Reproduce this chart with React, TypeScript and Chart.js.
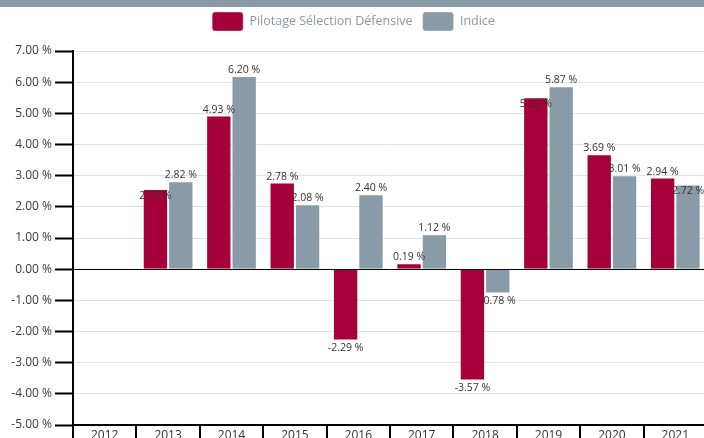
import React, { useEffect, useRef } from "react";
import { Chart, registerables } from "chart.js";

Chart.register(...registerables);

const categories = ["2012", "2013", "2014", "2015", "2016", "2017", "2018", "2019", "2020", "2021"];
const pilotageValues: (number | null)[] = [null, 2.57, 4.93, 2.78, -2.29, 0.19, -3.57, 5.52, 3.69, 2.94];
const indiceValues: (number | null)[] = [null, 2.82, 6.2, 2.08, 2.4, 1.12, -0.78, 5.87, 3.01, 2.72];
const seriesNames = ["Pilotage Sélection Défensive", "Indice"];
const yMin = -5;
const yMax = 7;
const yStep = 1;

const RED = "#a5003a";
const GRAY = "#8a9ba8";
const FONT = "'Open Sans', 'Noto Sans', sans-serif";

const legendSpacingPlugin = {
  id: "legendSpacing",
  beforeInit(chart: any) {
    const legend = chart.legend;
    if (!legend) return;
    const origFit = legend.fit;
    legend.fit = function () {
      origFit.call(this);
      this.height += 10;
    };
  },
};

const valueLabelPlugin = {
  id: "valueLabels",
  afterDatasetsDraw(chart: any) {
    const ctx = chart.ctx;
    const datasets = chart.data.datasets;
    const metas = datasets.map((_: any, i: number) => chart.getDatasetMeta(i));
    ctx.save();
    ctx.font = `10.5px ${FONT}`;
    ctx.fillStyle = "#333333";
    ctx.textAlign = "center";
    ctx.textBaseline = "alphabetic";
    const n = chart.data.labels.length;
    for (let j = 0; j < n; j++) {
      const items = metas.map((m: any, i: number) => ({ v: datasets[i].data[j], el: m.data[j] }));
      const inside = items.map(() => false);
      if (items.length === 2 && items.every((it: any) => it.v != null && it.v > 0)) {
        const [a, b] = items;
        if (Math.abs(a.el.y - b.el.y) < 12) {
          if (a.el.y > b.el.y) inside[0] = true;
          else inside[1] = true;
        }
      }
      items.forEach((it: any, i: number) => {
        if (it.v == null || !it.el) return;
        const { x, y } = it.el;
        let by: number;
        if (it.v >= 0) by = inside[i] ? y + 10 : y - 3;
        else by = y + 10.5;
        ctx.fillText(it.v.toFixed(2) + " %", x, by);
      });
    }
    ctx.restore();
  },
};

export default function App() {
  const canvasRef = useRef<HTMLCanvasElement | null>(null);

  useEffect(() => {
    if (!canvasRef.current) return;
    const chart = new Chart(canvasRef.current, {
      type: "bar",
      data: {
        labels: categories,
        datasets: [
          {
            label: seriesNames[0],
            data: pilotageValues,
            backgroundColor: RED,
            borderColor: "rgba(255,255,255,0.35)",
            borderWidth: 1,
            categoryPercentage: 0.8,
            barPercentage: 1.0,
          },
          {
            label: seriesNames[1],
            data: indiceValues,
            backgroundColor: GRAY,
            borderColor: "rgba(255,255,255,0.35)",
            borderWidth: 1,
            categoryPercentage: 0.8,
            barPercentage: 1.0,
          },
        ],
      },
      options: {
        responsive: false,
        animation: false,
        devicePixelRatio: 1,
        layout: { padding: { top: 2, left: 0, right: 0, bottom: 0 } },
        plugins: {
          legend: {
            position: "top",
            labels: {
              boxWidth: 31,
              boxHeight: 19,
              useBorderRadius: true,
              borderRadius: 3,
              color: "#8a98a5",
              font: { family: FONT, size: 12.5 },
              padding: 10,
            },
          },
          tooltip: { enabled: false },
        },
        scales: {
          x: {
            offset: true,
            grid: {
              offset: true,
              drawOnChartArea: false,
              drawTicks: true,
              tickLength: 16,
              tickWidth: 2,
              tickColor: "#000",
              color: "#000",
              lineWidth: 2,
            },
            border: { display: true, color: "#000", width: 2 },
            ticks: {
              padding: -13,
              color: "#333333",
              font: { family: FONT, size: 12 },
              maxRotation: 0,
              autoSkip: false,
            },
            afterFit: (s: any) => {
              s.height = 27;
            },
          },
          y: {
            min: yMin,
            max: yMax,
            ticks: {
              stepSize: yStep,
              callback: (v: any) => Number(v).toFixed(2) + " %",
              padding: 3,
              color: "#3a3a3a",
              font: { family: FONT, size: 12 },
            },
            grid: {
              color: (c: any) => (c.tick && c.tick.value === 0 ? "#000" : "#e2e2e2"),
              lineWidth: 1,
              tickColor: "#000",
              tickWidth: 2,
              tickLength: 18,
              drawTicks: true,
            },
            border: { display: true, color: "#000", width: 2 },
            afterFit: (s: any) => {
              s.width = 73;
            },
          },
        },
      },
      plugins: [legendSpacingPlugin, valueLabelPlugin],
    });
    return () => chart.destroy();
  }, []);

  return (
    <div
      style={{
        position: "fixed",
        left: 0,
        top: 0,
        width: 704,
        height: 438,
        overflow: "hidden",
        background: "#ffffff",
      }}
    >
      <canvas
        ref={canvasRef}
        width={707}
        height={452}
        style={{ position: "absolute", left: 0, top: 0, width: 707, height: 452 }}
      />
      <div
        style={{
          position: "absolute",
          left: 0,
          top: 0,
          width: "100%",
          height: 7,
          background: GRAY,
        }}
      />
    </div>
  );
}
